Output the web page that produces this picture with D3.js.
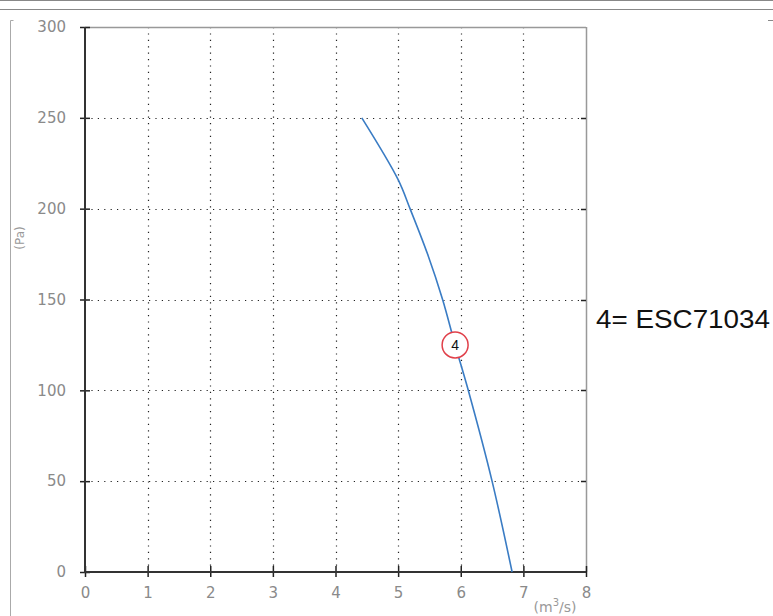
<!DOCTYPE html>
<html><head><meta charset="utf-8">
<script src="https://cdn.jsdelivr.net/npm/d3@7"></script>
<style>body{margin:0;background:#fff}svg{display:block}</style>
</head><body><svg id="c" width="773" height="616"></svg>
<script>
const xTicks = [0,1,2,3,4,5,6,7,8];
const yTicks = [0,50,100,150,200,250,300];
const flow = [4.42,5.0,5.19,5.47,5.71,5.91,6.12,6.5,6.82];
const pressure = [250,216,200,175,150,125,100,50,0];
const marker = {label:"4", x:5.91, y:125};
const legendText = "4= ESC71034";

const svg = d3.select("#c");
const L=85,R=586,T=27,B=572;
const x = d3.scaleLinear().domain([0,8]).range([L,R]);
const y = d3.scaleLinear().domain([0,300]).range([B,T]);
const font = "'DejaVu Sans', sans-serif";

// page decorations
svg.append("line").attr("x1",0).attr("x2",773).attr("y1",0.5).attr("y2",0.5).attr("stroke","#888");
svg.append("line").attr("x1",0).attr("x2",773).attr("y1",9.5).attr("y2",9.5).attr("stroke","#888");
svg.append("path").attr("d","M13.5,20.5H10.5V616").attr("fill","none").attr("stroke","#aaa");
svg.append("line").attr("x1",768).attr("x2",773).attr("y1",20.5).attr("y2",20.5).attr("stroke","#888");

// grid
const g = svg.append("g");
g.selectAll(".vg").data(xTicks.filter(d=>d>0&&d<8)).join("line")
 .attr("x1",d=>Math.round(x(d))+0.5).attr("x2",d=>Math.round(x(d))+0.5).attr("y1",T).attr("y2",B)
 .attr("stroke","#222").attr("stroke-width",1.2).attr("stroke-dasharray","1.2,5.2");
g.selectAll(".hg").data(yTicks.filter(d=>d>0&&d<300)).join("line")
 .attr("y1",d=>Math.round(y(d))+0.5).attr("y2",d=>Math.round(y(d))+0.5).attr("x1",L).attr("x2",R)
 .attr("stroke","#222").attr("stroke-width",1.2).attr("stroke-dasharray","1.2,5.2");

// frame
svg.append("line").attr("x1",L).attr("x2",R).attr("y1",T+0.5).attr("y2",T+0.5).attr("stroke","#999").attr("stroke-width",1.5);
svg.append("line").attr("x1",R+0.5).attr("x2",R+0.5).attr("y1",T).attr("y2",B).attr("stroke","#999").attr("stroke-width",1.5);

// right ticks
svg.selectAll(".rt").data(yTicks.filter(d=>d>0&&d<300)).join("line")
 .attr("x1",R-5).attr("x2",R).attr("y1",d=>Math.round(y(d))+0.5).attr("y2",d=>Math.round(y(d))+0.5)
 .attr("stroke","#222").attr("stroke-width",1.5);

// axes
const xa = svg.append("g").attr("transform",`translate(0,${B})`)
 .call(d3.axisBottom(x).tickValues(xTicks).tickSize(5).tickPadding(10));
xa.select(".domain").remove();
xa.selectAll(".tick line").attr("y1",-6).attr("y2",5).attr("stroke","#222").attr("stroke-width",1.5);
xa.selectAll("text").attr("font-family",font).attr("font-size",15).attr("fill","#8a8a8a");
const ya = svg.append("g").attr("transform",`translate(${L},0)`)
 .call(d3.axisLeft(y).tickValues(yTicks).tickSize(5).tickPadding(14));
ya.select(".domain").remove();
ya.selectAll(".tick line").attr("x1",-5).attr("x2",5).attr("stroke","#222").attr("stroke-width",1.5);
ya.selectAll("text").attr("font-family",font).attr("font-size",15).attr("fill","#8a8a8a");

svg.append("line").attr("x1",L).attr("x2",L).attr("y1",T).attr("y2",B+1).attr("stroke","#333").attr("stroke-width",2);
svg.append("line").attr("x1",L-1).attr("x2",R).attr("y1",B).attr("y2",B).attr("stroke","#333").attr("stroke-width",2);

// axis units
svg.append("text").attr("transform","translate(24,238) rotate(-90)").attr("text-anchor","middle")
 .attr("font-family",font).attr("font-size",12).attr("fill","#999").text("(Pa)");
const u = svg.append("text").attr("x",555).attr("y",612).attr("text-anchor","middle")
 .attr("font-family",font).attr("font-size",14).attr("fill","#999");
u.append("tspan").text("(m");
u.append("tspan").attr("dy",-6).attr("font-size",10).text("3");
u.append("tspan").attr("dy",6).text("/s)");

// curve
const pts = flow.map((f,i)=>[f,pressure[i]]);
svg.append("path").datum(pts)
 .attr("d",d3.line().x(d=>x(d[0])).y(d=>y(d[1])).curve(d3.curveCatmullRom.alpha(0.5)))
 .attr("fill","none").attr("stroke","#3a7cc4").attr("stroke-width",1.6);

// marker
svg.append("circle").attr("cx",x(marker.x)).attr("cy",y(marker.y)).attr("r",13)
 .attr("fill","#fff").attr("stroke","#e0404a").attr("stroke-width",1.5);
svg.append("text").attr("x",x(marker.x)).attr("y",y(marker.y)+5).attr("text-anchor","middle")
 .attr("font-family","'Liberation Sans', Arial, sans-serif").attr("font-size",14).attr("fill","#111").text(marker.label);

// legend
svg.append("text").attr("x",596).attr("y",328).attr("font-family","'Liberation Sans', Arial, sans-serif")
 .attr("font-size",25).attr("textLength",174).attr("lengthAdjust","spacingAndGlyphs").attr("fill","#111").text(legendText);
</script></body></html>
